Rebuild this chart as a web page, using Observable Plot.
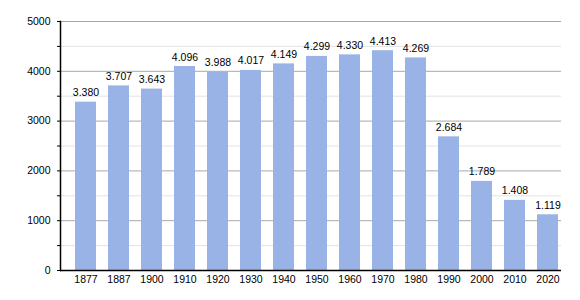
<!DOCTYPE html>
<html>
<head>
<meta charset="utf-8">
<script src="https://cdn.jsdelivr.net/npm/d3@7"></script>
<script src="https://cdn.jsdelivr.net/npm/@observablehq/plot@0.6"></script>
<style>
  html, body { margin: 0; padding: 0; background: #fff; }
  #chart { width: 580px; height: 300px; }
</style>
</head>
<body>
<div id="chart"></div>
<script>
const years = ["1877","1887","1900","1910","1920","1930","1940","1950","1960","1970","1980","1990","2000","2010","2020"];
const population = [3380,3707,3643,4096,3988,4017,4149,4299,4330,4413,4269,2684,1789,1408,1119];
const majorTicks = [0,1000,2000,3000,4000,5000];
const minorTicks = [500,1500,2500,3500,4500];

const data = years.map((y, i) => ({year: y, value: population[i]}));
const fmt = v => d3.format(",")(v).replace(/,/g, ".");

const chart = Plot.plot({
  width: 580,
  height: 300,
  marginLeft: 60,
  marginRight: 19,
  marginTop: 21,
  marginBottom: 30,
  style: {fontFamily: "'Liberation Sans', Arial, sans-serif", fontSize: "10.5px", color: "#000", background: "#fff"},
  x: {domain: years, paddingInner: 0.37, paddingOuter: 0, insetLeft: 12.7, label: null},
  y: {domain: [0, 5000], label: null},
  marks: [
    Plot.ruleY(minorTicks, {stroke: "#e3e3e3", strokeWidth: 1}),
    Plot.ruleY(majorTicks.filter(d => d > 0), {stroke: "#a8a8a8", strokeWidth: 1}),
    Plot.barY(data, {x: "year", y: "value", fill: "#99b3e6"}),
    Plot.text(data, {x: "year", y: "value", text: d => fmt(d.value), lineAnchor: "bottom", dy: -6, fill: "#000", fontSize: 10.5}),
    Plot.axisY(majorTicks, {tickSize: 3, tickPadding: 7, tickFormat: d => String(d), stroke: "#000", fill: "#000"}),
    Plot.axisY(minorTicks, {tickSize: 3, tickFormat: () => "", stroke: "#000"}),
    Plot.axisX({tickSize: 0, tickPadding: 5, fill: "#000"}),
    Plot.ruleY([0], {stroke: "#000", strokeWidth: 1.5}),
    Plot.frame({anchor: "left", stroke: "#000", strokeWidth: 1.5})
  ]
});
document.getElementById("chart").appendChild(chart);
</script>
</body>
</html>
